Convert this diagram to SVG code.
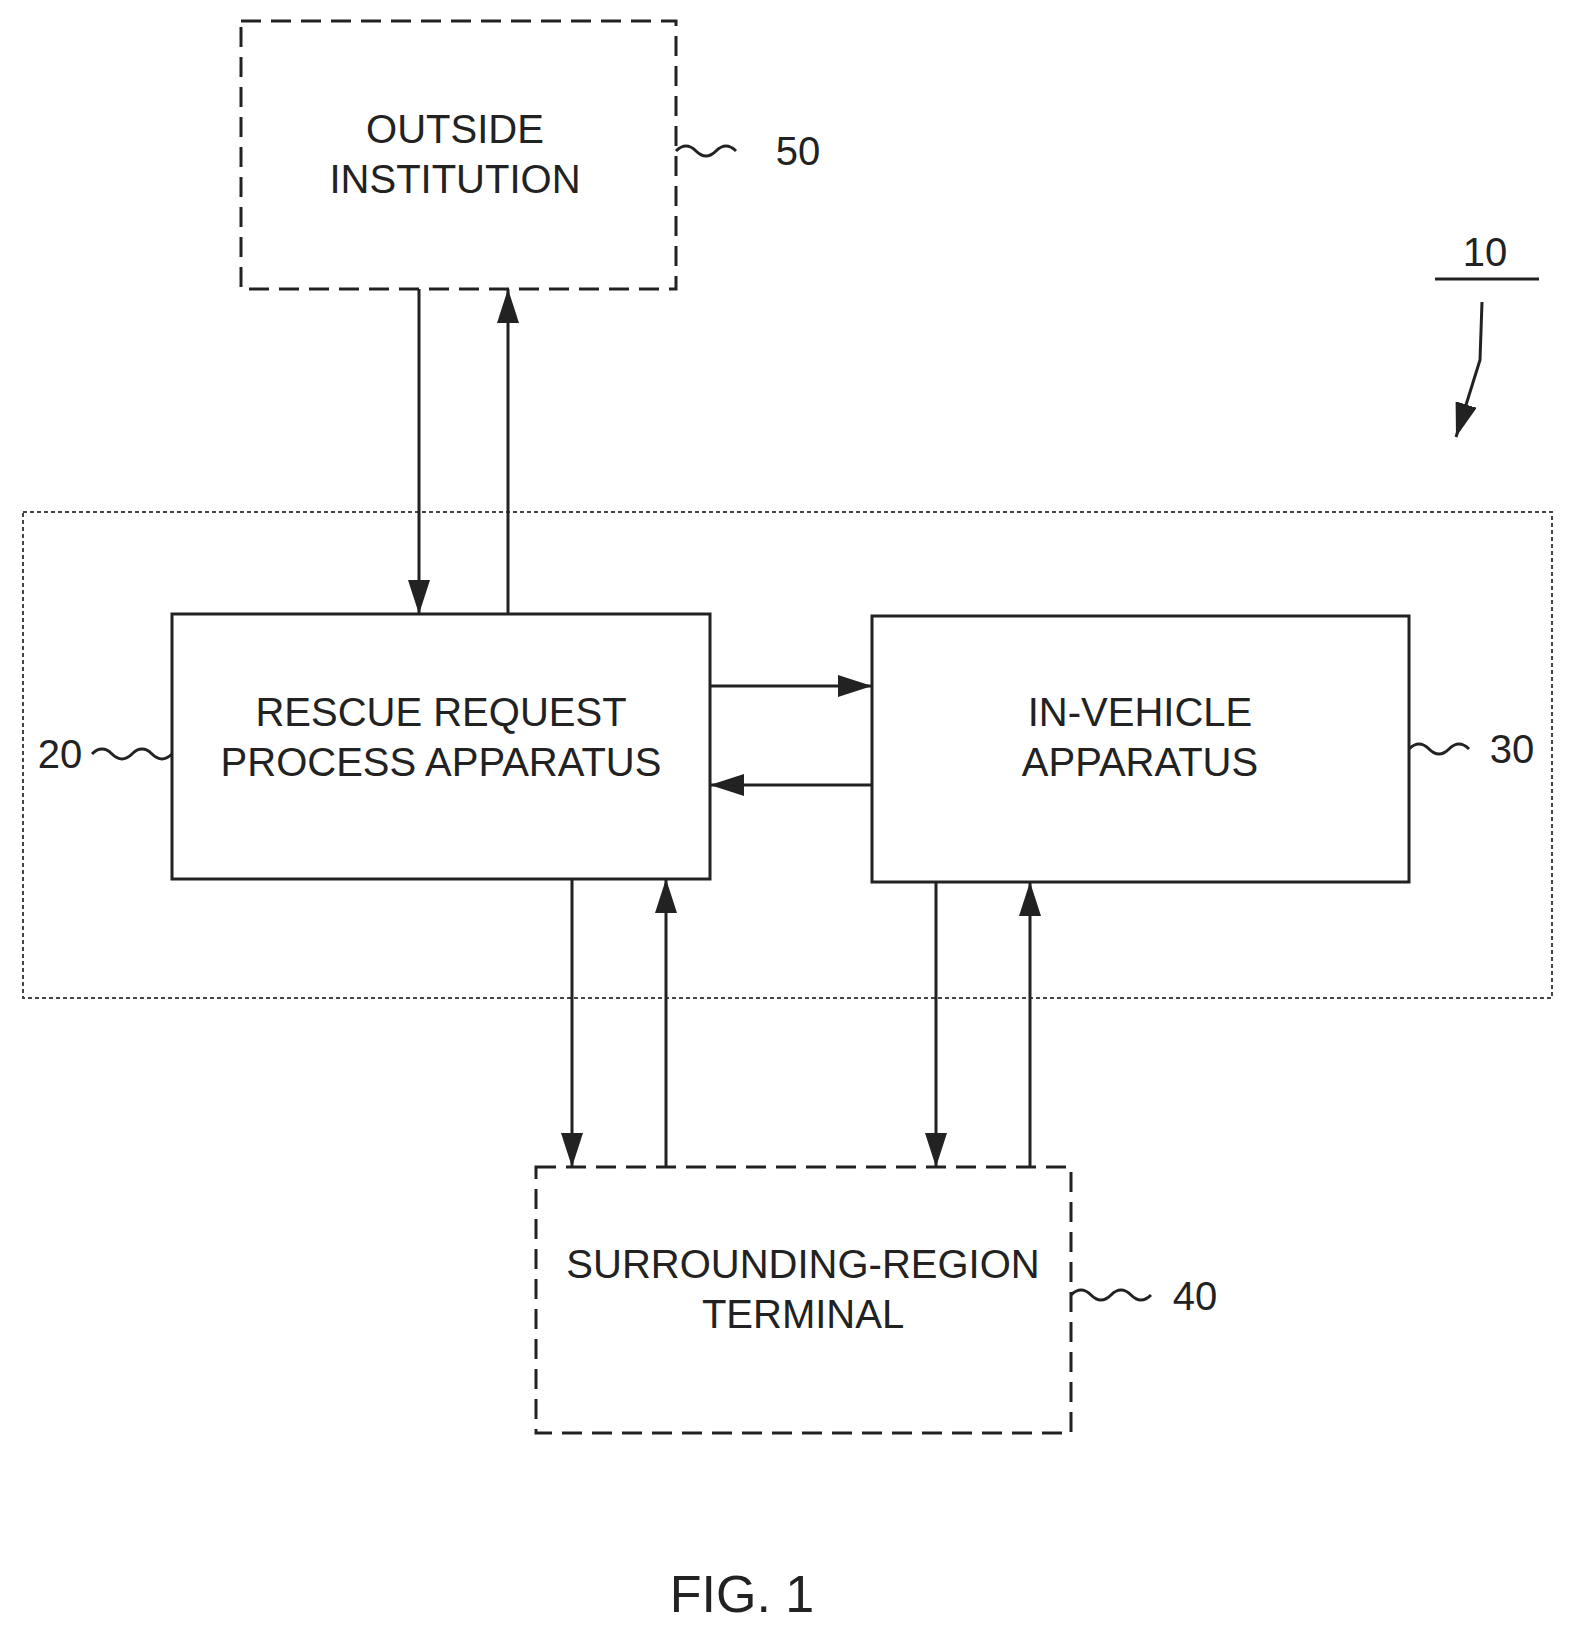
<svg xmlns="http://www.w3.org/2000/svg" width="1580" height="1637" viewBox="0 0 1580 1637">
<style>
.t{font-family:"Liberation Sans",Arial,sans-serif;font-size:40px;fill:#222;text-anchor:middle}
.b{fill:none;stroke:#222;stroke-width:3}
.d{fill:none;stroke:#222;stroke-width:3;stroke-dasharray:20 10}
.o{fill:none;stroke:#444;stroke-width:2;stroke-dasharray:4 3}
.l{stroke:#222;stroke-width:3;fill:none}
</style>
<defs><marker id="a" markerWidth="10" markerHeight="10" refX="9" refY="5" orient="auto" markerUnits="userSpaceOnUse" viewBox="0 0 10 10"><path d="M0,0 L10,5 L0,10 Z" fill="#222" transform="scale(1)"/></marker>
<marker id="A" markerWidth="34" markerHeight="22" refX="34" refY="11" orient="auto" markerUnits="userSpaceOnUse"><path d="M0,0 L34,11 L0,22 Z" fill="#222"/></marker></defs>
<g id="system"><rect class="o" x="23" y="512" width="1529" height="486"/>
<text class="t" x="1485" y="266">10</text><line class="l" x1="1435" y1="279" x2="1539" y2="279"/></g>
<g id="n50"><rect class="d" x="241" y="21" width="435" height="268"/>
<text class="t" x="455" y="143">OUTSIDE</text><text class="t" x="455" y="193">INSTITUTION</text>
<path class="l" d="M676,151 q10,-10 20,0 t20,0 t20,0" /><text class="t" x="798" y="165">50</text></g>
<g id="n20"><rect class="b" x="172" y="614" width="538" height="265"/>
<text class="t" x="441" y="726">RESCUE REQUEST</text><text class="t" x="441" y="776">PROCESS APPARATUS</text>
<path class="l" d="M92,754 q10,-10 20,0 t20,0 t20,0 t20,0"/><text class="t" x="60" y="768">20</text></g>
<g id="n30"><rect class="b" x="872" y="616" width="537" height="266"/>
<text class="t" x="1140" y="726">IN-VEHICLE</text><text class="t" x="1140" y="776">APPARATUS</text>
<path class="l" d="M1409,749 q10,-10 20,0 t20,0 t20,0"/><text class="t" x="1512" y="763">30</text></g>
<g id="n40"><rect class="d" x="536" y="1167" width="535" height="266"/>
<text class="t" x="803" y="1278">SURROUNDING-REGION</text><text class="t" x="803" y="1328">TERMINAL</text>
<path class="l" d="M1071,1295 q10,-10 20,0 t20,0 t20,0 t20,0"/><text class="t" x="1195" y="1310">40</text></g>
<g id="connectors">
<line class="l" x1="419" y1="289" x2="419" y2="614" marker-end="url(#A)"/>
<line class="l" x1="508" y1="614" x2="508" y2="289" marker-end="url(#A)"/>
<line class="l" x1="710" y1="686" x2="872" y2="686" marker-end="url(#A)"/>
<line class="l" x1="872" y1="785" x2="710" y2="785" marker-end="url(#A)"/>
<line class="l" x1="572" y1="879" x2="572" y2="1167" marker-end="url(#A)"/>
<line class="l" x1="666" y1="1167" x2="666" y2="879" marker-end="url(#A)"/>
<line class="l" x1="936" y1="882" x2="936" y2="1167" marker-end="url(#A)"/>
<line class="l" x1="1030" y1="1167" x2="1030" y2="882" marker-end="url(#A)"/>
<path class="l" d="M1482,302 L1480,360 L1456,437" marker-end="url(#A)"/>
</g>
<text class="t" x="742" y="1612" style="font-size:52px">FIG. 1</text>
</svg>
